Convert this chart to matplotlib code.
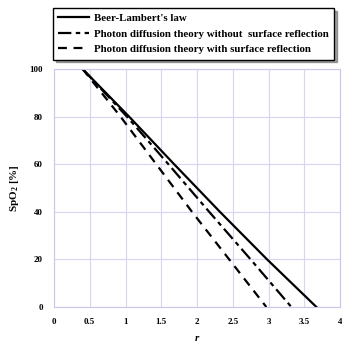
import numpy as np
import matplotlib.pyplot as plt

# SpO2 niveis (eixo y) e distancia r de cada curva
spo2 = [100, 80, 60, 40, 20, 0]
r_beer = [0.40, 1.05, 1.68, 2.32, 2.98, 3.67]
r_sem_reflexao = [0.40, 1.02, 1.60, 2.17, 2.75, 3.32]
r_com_reflexao = [0.40, 0.93, 1.43, 1.93, 2.45, 2.97]

nomes = ["Beer-Lambert's law",
         "Photon diffusion theory without  surface reflection",
         "Photon diffusion theory with surface reflection"]

plt.rcParams['font.family'] = ['Liberation Serif', 'DejaVu Serif']
plt.rcParams['font.weight'] = 'bold'
plt.rcParams['axes.labelweight'] = 'bold'
plt.rcParams['mathtext.fontset'] = 'custom'
plt.rcParams['mathtext.rm'] = 'Liberation Serif:bold'
plt.rcParams['mathtext.it'] = 'Liberation Serif:italic:bold'

fig = plt.figure(figsize=(3.42, 3.53), dpi=100)
ax = fig.add_axes([54/342, 1-307/353, 286/342, 238/353])

ax.plot(r_beer, spo2, 'k-', lw=1.6, label=nomes[0])
ax.plot(r_sem_reflexao, spo2, color='k', lw=1.6, dashes=(6, 2, 2, 2), label=nomes[1])
ax.plot(r_com_reflexao, spo2, color='k', lw=1.6, dashes=(4, 3), label=nomes[2])

ax.set_xlim(0, 4)
ax.set_ylim(0, 100)
ax.set_xticks([0, 0.5, 1, 1.5, 2, 2.5, 3, 3.5, 4])
ax.set_xticklabels(['0', '0.5', '1', '1.5', '2', '2.5', '3', '3.5', '4'])
ax.set_yticks([0, 20, 40, 60, 80, 100])
ax.tick_params(length=0, labelsize=6.5, pad=8)
ax.grid(color='#d6d6f0', lw=0.8)
for s in ax.spines.values():
    s.set_color('#c8c8ee')
    s.set_linewidth(0.8)

ax.set_xlabel('$r$', fontsize=8, labelpad=6)
ax.set_ylabel('SpO$_2$ [%]', fontsize=8, labelpad=6)

leg = fig.legend(loc='upper left', bbox_to_anchor=(53/342, 1-8/353), fontsize=7.8,
                 frameon=True, shadow=True, fancybox=False, handlelength=2.8,
                 borderpad=0.5, labelspacing=0.55, handletextpad=0.5,
                 borderaxespad=0)
leg.get_frame().set_edgecolor('black')
leg.get_frame().set_linewidth(1.0)

plt.savefig('out.png', dpi=100)
